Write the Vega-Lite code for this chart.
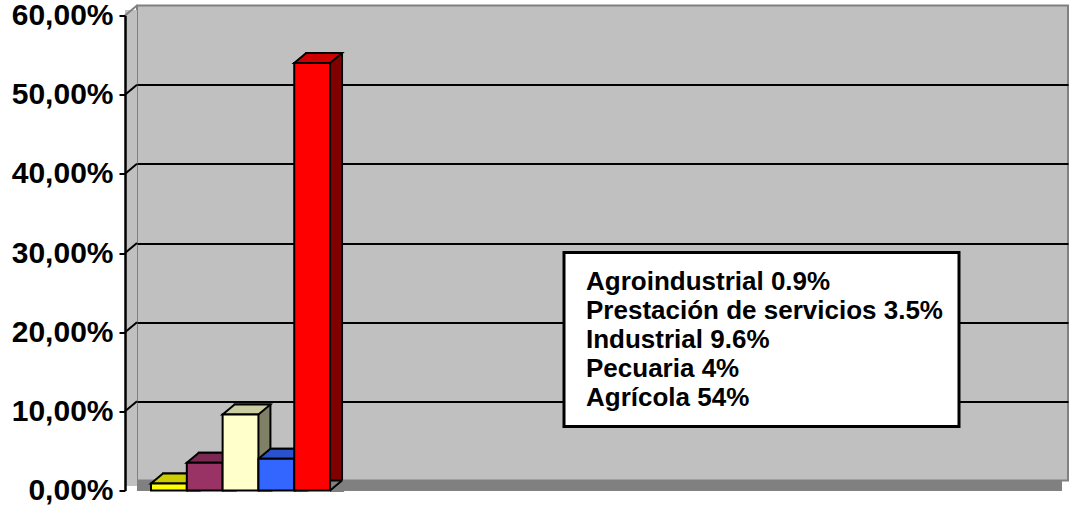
{
  "$schema": "https://vega.github.io/schema/vega-lite/v6.json",
  "width": 931,
  "height": 475,
  "autosize": {"type": "none"},
  "padding": {"left": 137, "top": 5.5, "right": 3, "bottom": 25.5},
  "background": "white",
  "view": {"fill": "#C0C0C0", "stroke": "#808080", "strokeWidth": 2},
  "config": {"font": "Liberation Sans", "legend": {"strokeWidth": 3}},
  "datasets": {
    "sectores": [
      {"cat": "1", "sector": "Agroindustrial 0.9%", "value": 0.009},
      {"cat": "1", "sector": "Prestación de servicios 3.5%", "value": 0.035},
      {"cat": "1", "sector": "Industrial 9.6%", "value": 0.096},
      {"cat": "1", "sector": "Pecuaria 4%", "value": 0.04},
      {"cat": "1", "sector": "Agrícola 54%", "value": 0.54}
    ],
    "lineas": [{"v": 0.1}, {"v": 0.2}, {"v": 0.3}, {"v": 0.4}, {"v": 0.5}, {"v": 0.6}]
  },
  "data": {"name": "sectores"},
  "layer": [
    {
      "mark": {"type": "rule", "color": "#C0C0C0", "strokeWidth": 12, "xOffset": -6, "yOffset": 5, "y2Offset": 5},
      "encoding": {
        "x": {"datum": "1", "type": "nominal", "bandPosition": 0, "scale": {"domain": ["1", "2", "3", "4"], "paddingInner": 0, "paddingOuter": 0}, "axis": null},
        "y": {"datum": 0.6, "type": "quantitative", "scale": {"domain": [0, 0.6], "nice": false}, "axis": null},
        "y2": {"datum": 0}
      }
    },
    {
      "mark": {"type": "rect", "color": "#808080", "y2Offset": 10, "xOffset": -6, "x2Offset": -6},
      "encoding": {
        "y": {"datum": 0, "type": "quantitative", "axis": null},
        "y2": {"datum": 0}
      }
    },
    {
      "mark": {"type": "bar", "stroke": "black", "strokeWidth": 2, "y2Offset": 10},
      "encoding": {
        "x": {"field": "cat", "type": "nominal", "scale": {"domain": ["1", "2", "3", "4"], "paddingInner": 0, "paddingOuter": 0}, "axis": null},
        "xOffset": {"field": "sector", "type": "nominal", "sort": null, "scale": {"type": "band", "paddingInner": 0, "paddingOuter": 0.75, "align": 0.484}},
        "y": {"field": "value", "type": "quantitative", "axis": {"orient": "left", "values": [0.1, 0.2, 0.3, 0.4, 0.5], "grid": true, "gridColor": "black", "gridWidth": 2, "gridOpacity": 1, "domain": false, "ticks": false, "labels": false, "title": null}},
        "fill": {"field": "sector", "type": "nominal", "scale": {"domain": ["Agroindustrial 0.9%", "Prestación de servicios 3.5%", "Industrial 9.6%", "Pecuaria 4%", "Agrícola 54%"], "range": ["#808000", "#4D1A33", "#808066", "#1A3380", "#800000"]}, "legend": null}
      }
    },
    {
      "mark": {"type": "point", "shape": "M17.9,0L29.9,-10L32,-10L32,1.5L17.9,1.5Z", "size": 4, "filled": true, "fill": "#808080", "strokeWidth": 0, "opacity": 1, "yOffset": 10},
      "encoding": {
        "x": {"field": "cat", "type": "nominal", "scale": {"domain": ["1", "2", "3", "4"], "paddingInner": 0, "paddingOuter": 0}, "axis": null},
        "xOffset": {"field": "sector", "type": "nominal", "sort": null, "scale": {"type": "band", "paddingInner": 0, "paddingOuter": 0.75, "align": 0.2607}},
        "y": {"datum": 0, "type": "quantitative", "axis": null}
      }
    },
    {
      "mark": {"type": "point", "shape": "M17.9,0L29.9,-10", "size": 4, "filled": false, "stroke": "black", "strokeWidth": 2, "opacity": 1, "yOffset": 10},
      "encoding": {
        "x": {"field": "cat", "type": "nominal", "scale": {"domain": ["1", "2", "3", "4"], "paddingInner": 0, "paddingOuter": 0}, "axis": null},
        "xOffset": {"field": "sector", "type": "nominal", "sort": null, "scale": {"type": "band", "paddingInner": 0, "paddingOuter": 0.75, "align": 0.2607}},
        "y": {"datum": 0, "type": "quantitative", "axis": null}
      }
    },
    {
      "mark": {"type": "point", "shape": "M-17.9,0L17.9,0L29.9,-10L-5.9,-10Z", "size": 4, "filled": true, "stroke": "black", "strokeWidth": 2, "opacity": 1, "yOffset": 10},
      "encoding": {
        "x": {"field": "cat", "type": "nominal", "scale": {"domain": ["1", "2", "3", "4"], "paddingInner": 0, "paddingOuter": 0}, "axis": null},
        "xOffset": {"field": "sector", "type": "nominal", "sort": null, "scale": {"type": "band", "paddingInner": 0, "paddingOuter": 0.75, "align": 0.2607}},
        "y": {"field": "value", "type": "quantitative", "axis": null},
        "fill": {"field": "sector", "type": "nominal", "scale": {"domain": ["Agroindustrial 0.9%", "Prestación de servicios 3.5%", "Industrial 9.6%", "Pecuaria 4%", "Agrícola 54%"], "range": ["#CCCC00", "#7A2952", "#CCCCA3", "#2952CC", "#CC0000"]}, "legend": null}
      }
    },
    {
      "mark": {"type": "bar", "stroke": "black", "strokeWidth": 2, "yOffset": 10, "y2Offset": 10},
      "encoding": {
        "x": {"field": "cat", "type": "nominal", "scale": {"domain": ["1", "2", "3", "4"], "paddingInner": 0, "paddingOuter": 0},
          "axis": {"orient": "bottom", "offset": 10, "position": -12, "labels": false, "title": null, "domainColor": "black", "domainWidth": 2.5, "tickColor": "black", "tickWidth": 2, "tickSize": 7, "tickBand": "extent", "grid": false, "zindex": 1}},
        "xOffset": {"field": "sector", "type": "nominal", "sort": null, "scale": {"type": "band", "paddingInner": 0, "paddingOuter": 0.75, "align": 0.2607}},
        "y": {"field": "value", "type": "quantitative",
          "axis": {"orient": "left", "offset": 12, "position": 10, "values": [0, 0.1, 0.2, 0.3, 0.4, 0.5, 0.6], "labelExpr": "replace(format(datum.value, '.2%'), '.', ',')", "labelFont": "Liberation Sans", "labelFontSize": 30, "labelFontWeight": "bold", "labelColor": "black", "labelPadding": 6, "labelOverlap": false, "labelFlush": false, "tickSize": 6, "tickWidth": 2, "tickColor": "black", "domainColor": "black", "domainWidth": 2.5, "grid": false, "title": null, "zindex": 1}},
        "color": {"field": "sector", "type": "nominal",
          "scale": {"domain": ["Agroindustrial 0.9%", "Prestación de servicios 3.5%", "Industrial 9.6%", "Pecuaria 4%", "Agrícola 54%"], "range": ["#FFFF00", "#993366", "#FFFFCC", "#3366FF", "#FF0000"]},
          "legend": {"orient": "none", "legendX": 427, "legendY": 247, "title": null, "fillColor": "white", "strokeColor": "black", "padding": 16, "labelFont": "Liberation Sans", "labelFontSize": 26, "labelFontWeight": "bold", "labelColor": "black", "labelLimit": 600, "symbolSize": 0, "symbolOpacity": 0, "symbolStrokeWidth": 0, "rowPadding": 3, "labelOffset": -20}}
      }
    },
    {
      "data": {"name": "lineas"},
      "mark": {"type": "point", "shape": "M0,0L-12,10", "size": 4, "filled": false, "strokeWidth": 2, "opacity": 1},
      "encoding": {
        "x": {"datum": "1", "type": "nominal", "bandPosition": 0, "scale": {"domain": ["1", "2", "3", "4"], "paddingInner": 0, "paddingOuter": 0}, "axis": null},
        "y": {"field": "v", "type": "quantitative", "axis": null},
        "stroke": {"condition": {"test": "datum.v > 0.55", "value": "#808080"}, "value": "black"}
      }
    }
  ],
  "resolve": {"scale": {"xOffset": "independent", "fill": "independent"}, "axis": {"y": "independent"}}
}
